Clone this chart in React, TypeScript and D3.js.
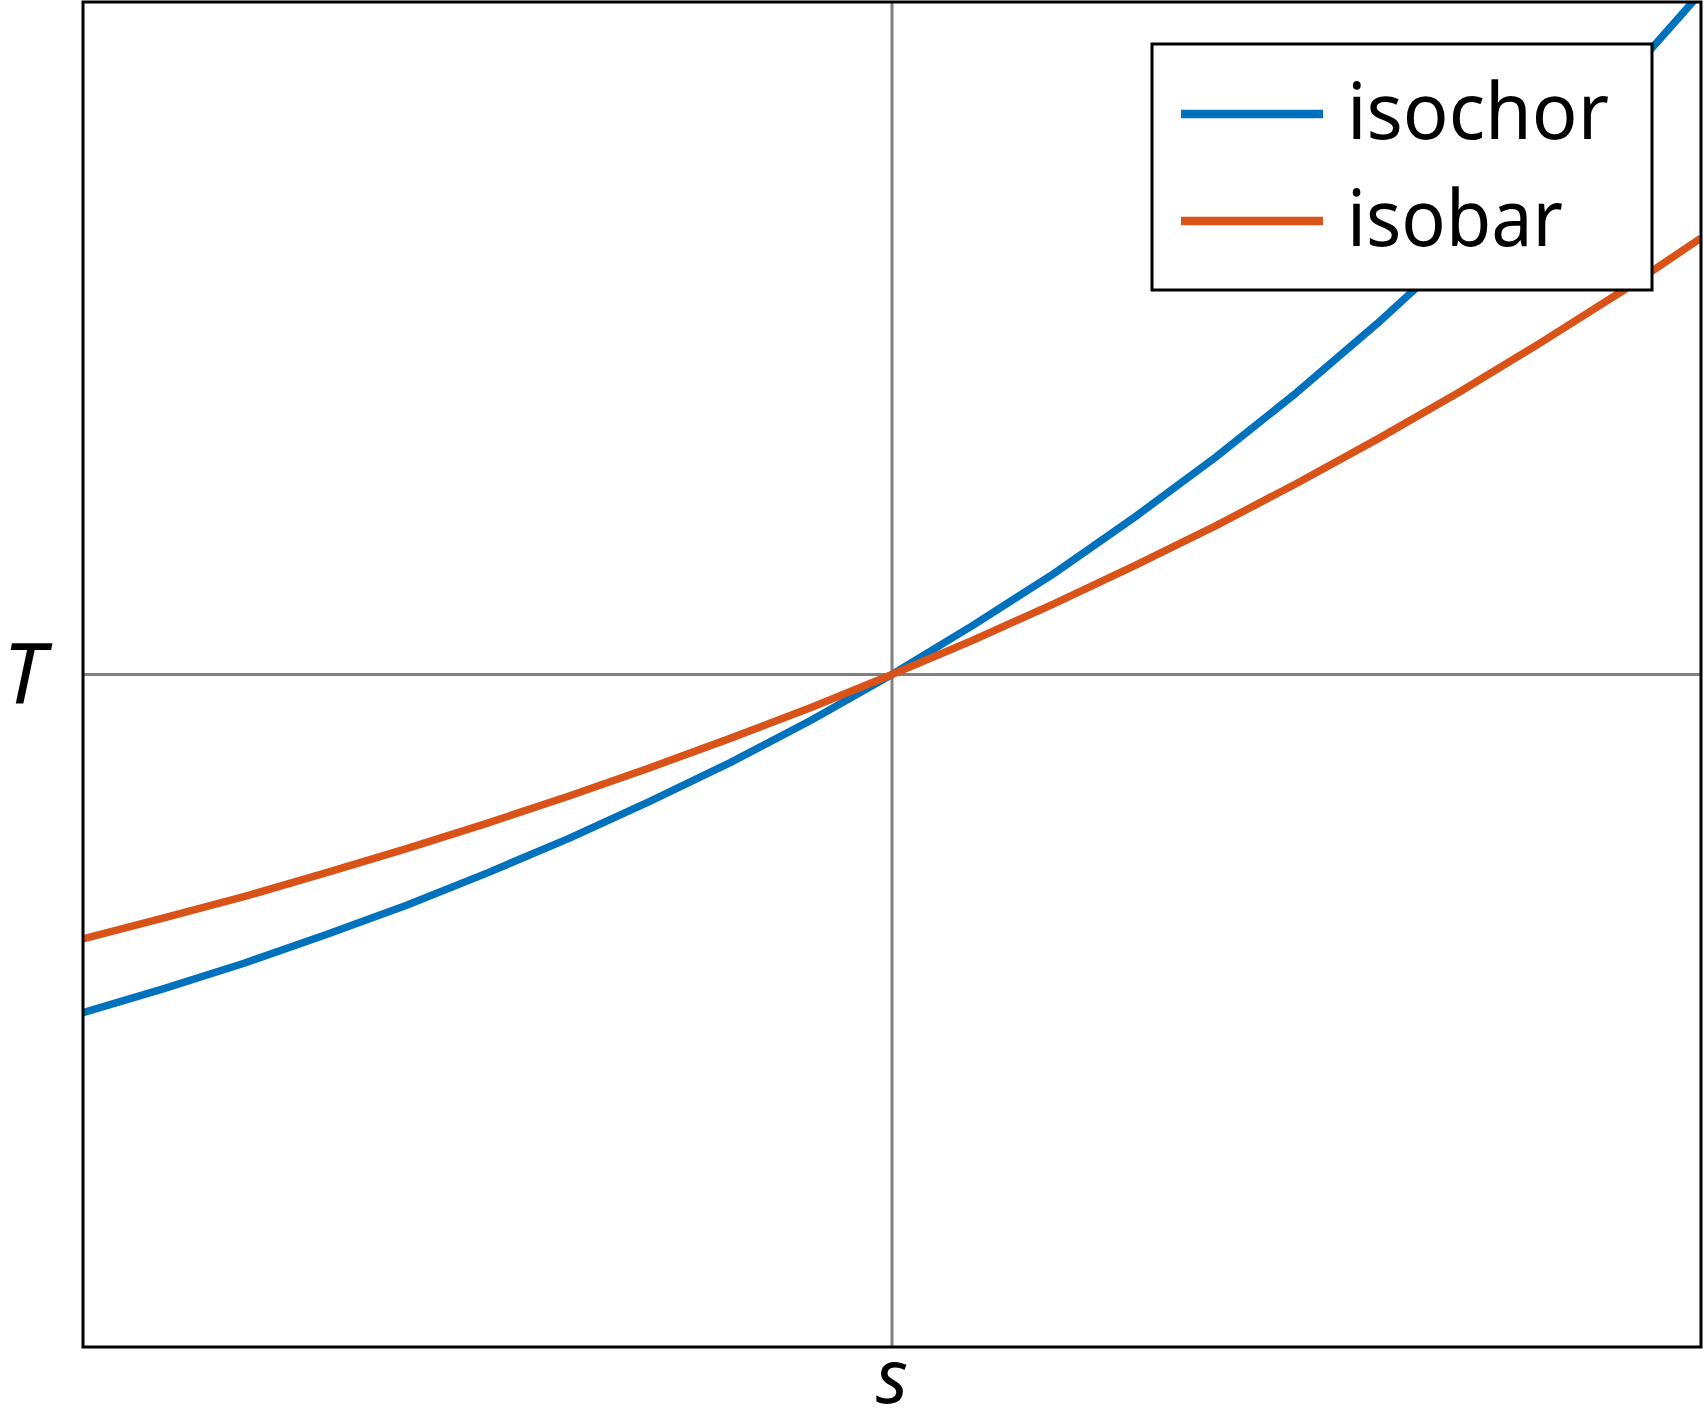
import { useEffect, useRef } from "react"
import * as d3 from "d3"

// entropy samples (normalised, centre = reference state)
const sValues = [-1, -0.9, -0.8, -0.7, -0.6, -0.5, -0.4, -0.3, -0.2, -0.1, 0, 0.1, 0.2, 0.3, 0.4, 0.5, 0.6, 0.7, 0.8, 0.9, 1]

// temperature, T / T0
const isochorT = [0.497, 0.533, 0.571, 0.613, 0.657, 0.705, 0.756, 0.811, 0.869, 0.932, 1, 1.073, 1.15, 1.234, 1.323, 1.419, 1.522, 1.632, 1.751, 1.878, 2.014]
const isobarT = [0.607, 0.638, 0.67, 0.705, 0.741, 0.779, 0.819, 0.861, 0.905, 0.951, 1, 1.051, 1.105, 1.162, 1.221, 1.284, 1.35, 1.419, 1.492, 1.568, 1.649]

const seriesNames = ["isochor", "isobar"]
const seriesColors = ["#0072BD", "#D95319"]

export default function App() {
  const svgRef = useRef<SVGSVGElement>(null)

  useEffect(() => {
    if (!svgRef.current) return
    document.body.style.margin = "0"

    const svg = d3.select(svgRef.current)
    svg.selectAll("*").remove()

    const width = 1704
    const height = 1414
    const margin = { top: 2, right: 3, bottom: 67, left: 83 }
    const innerWidth = width - margin.left - margin.right
    const innerHeight = height - margin.top - margin.bottom

    const xScale = d3.scaleLinear().domain([-1, 1]).range([0, innerWidth])
    const yScale = d3.scaleLinear().domain([0, 2]).range([innerHeight, 0])

    const g = svg.append("g").attr("transform", `translate(${margin.left}, ${margin.top})`)

    g.append("clipPath")
      .attr("id", "plot-clip")
      .append("rect")
      .attr("width", innerWidth)
      .attr("height", innerHeight)

    // Centre cross lines
    g.append("line")
      .attr("x1", xScale(0))
      .attr("x2", xScale(0))
      .attr("y1", 0)
      .attr("y2", innerHeight)
      .attr("stroke", "#808080")
      .attr("stroke-width", 3)

    g.append("line")
      .attr("x1", 0)
      .attr("x2", innerWidth)
      .attr("y1", yScale(1))
      .attr("y2", yScale(1))
      .attr("stroke", "#808080")
      .attr("stroke-width", 3)

    // Curves
    const line = d3
      .line<number>()
      .x((d, i) => xScale(sValues[i]))
      .y((d) => yScale(d))

    const allSeries = [isochorT, isobarT]
    allSeries.forEach((values, i) => {
      g.append("path")
        .datum(values)
        .attr("d", line)
        .attr("fill", "none")
        .attr("stroke", seriesColors[i])
        .attr("stroke-width", 7.5)
        .attr("stroke-linejoin", "round")
        .attr("clip-path", "url(#plot-clip)")
    })

    // Frame
    g.append("rect")
      .attr("width", innerWidth)
      .attr("height", innerHeight)
      .attr("fill", "none")
      .attr("stroke", "black")
      .attr("stroke-width", 3)

    // Axis labels
    svg
      .append("text")
      .attr("x", 24)
      .attr("y", margin.top + yScale(1) + 29)
      .attr("text-anchor", "middle")
      .attr("font-family", "Noto Sans")
      .attr("font-style", "italic")
      .attr("font-size", 84)
      .text("T")

    svg
      .append("text")
      .attr("x", margin.left + xScale(0))
      .attr("y", 1403)
      .attr("text-anchor", "middle")
      .attr("font-family", "Noto Sans")
      .attr("font-style", "italic")
      .attr("font-size", 74)
      .text("s")

    // Legend
    const legend = svg.append("g").attr("transform", "translate(1152, 44)")
    legend
      .append("rect")
      .attr("width", 500)
      .attr("height", 246)
      .attr("fill", "white")
      .attr("stroke", "black")
      .attr("stroke-width", 3)

    seriesNames.forEach((name, i) => {
      const y = 70 + i * 107
      legend
        .append("line")
        .attr("x1", 29)
        .attr("x2", 171)
        .attr("y1", y)
        .attr("y2", y)
        .attr("stroke", seriesColors[i])
        .attr("stroke-width", 8.5)
      legend
        .append("text")
        .attr("x", 195)
        .attr("y", y + 25)
        .attr("font-family", "Noto Sans")
        .attr("font-size", 78)
        .attr("textLength", i === 0 ? 262 : 216)
        .attr("lengthAdjust", "spacingAndGlyphs")
        .text(name)
    })
  }, [])

  return <svg ref={svgRef} width={1704} height={1414} style={{ display: "block", background: "white" }} />
}
